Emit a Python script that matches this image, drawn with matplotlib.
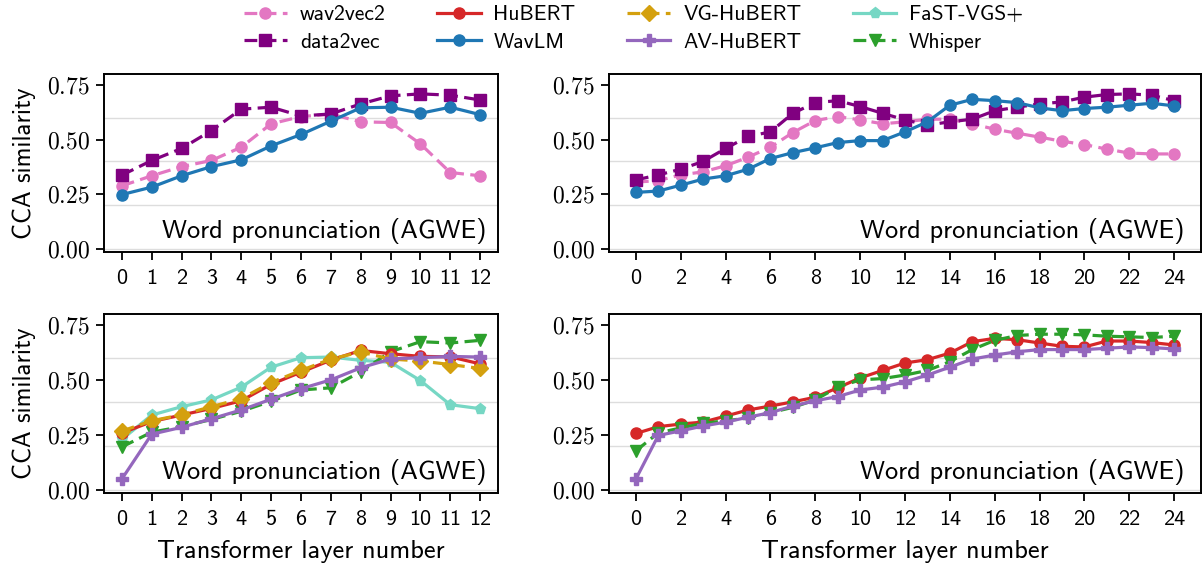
import matplotlib
matplotlib.use('Agg')
import matplotlib.pyplot as plt
from matplotlib.ticker import FormatStrFormatter

plt.rcParams['font.family'] = ['cmss10', 'DejaVu Sans']
plt.rcParams['mathtext.fontset'] = 'cm'
plt.rcParams['axes.unicode_minus'] = False

# base models (12 layers)
layers_base = list(range(13))
wav2vec2_base = [0.288, 0.334, 0.376, 0.404, 0.465, 0.572, 0.605, 0.616, 0.581, 0.578, 0.480, 0.349, 0.334]
data2vec_base = [0.337, 0.404, 0.459, 0.541, 0.639, 0.648, 0.608, 0.617, 0.663, 0.700, 0.709, 0.703, 0.681]
wavlm_base = [0.248, 0.282, 0.334, 0.376, 0.407, 0.471, 0.523, 0.584, 0.645, 0.648, 0.620, 0.648, 0.614]
hubert_base = [0.258, 0.310, 0.340, 0.370, 0.405, 0.480, 0.535, 0.590, 0.634, 0.619, 0.607, 0.605, 0.573]
vghubert_base = [0.267, 0.314, 0.341, 0.378, 0.415, 0.488, 0.543, 0.595, 0.627, 0.595, 0.586, 0.570, 0.552]
avhubert_base = [0.049, 0.253, 0.284, 0.323, 0.363, 0.412, 0.460, 0.500, 0.555, 0.595, 0.601, 0.607, 0.604]
fastvgs_base = [0.229, 0.340, 0.378, 0.409, 0.467, 0.558, 0.601, 0.604, 0.589, 0.580, 0.497, 0.387, 0.369]
whisper_base = [0.195, 0.262, 0.287, 0.320, 0.357, 0.403, 0.454, 0.464, 0.537, 0.628, 0.674, 0.668, 0.680]

# large models (24 layers)
layers_large = list(range(25))
wav2vec2_large = [0.305, 0.312, 0.338, 0.352, 0.380, 0.419, 0.465, 0.532, 0.587, 0.605, 0.590, 0.572, 0.581,
                  0.593, 0.593, 0.572, 0.547, 0.529, 0.511, 0.492, 0.477, 0.456, 0.438, 0.434, 0.434]
data2vec_large = [0.315, 0.338, 0.364, 0.400, 0.459, 0.514, 0.535, 0.620, 0.669, 0.678, 0.651, 0.620, 0.590,
                  0.566, 0.581, 0.593, 0.632, 0.648, 0.663, 0.672, 0.694, 0.706, 0.709, 0.703, 0.678]
wavlm_large = [0.258, 0.264, 0.291, 0.319, 0.334, 0.364, 0.413, 0.440, 0.462, 0.486, 0.495, 0.495, 0.535,
               0.581, 0.657, 0.684, 0.678, 0.669, 0.645, 0.632, 0.642, 0.648, 0.657, 0.666, 0.654]
hubert_large = [0.256, 0.287, 0.299, 0.308, 0.335, 0.363, 0.381, 0.400, 0.421, 0.464, 0.509, 0.543, 0.577,
                0.592, 0.622, 0.674, 0.689, 0.683, 0.668, 0.653, 0.650, 0.677, 0.677, 0.670, 0.659]
whisper_large = [0.177, 0.259, 0.281, 0.302, 0.314, 0.326, 0.351, 0.375, 0.409, 0.467, 0.500, 0.506, 0.522,
                 0.543, 0.583, 0.638, 0.680, 0.702, 0.708, 0.708, 0.705, 0.699, 0.696, 0.693, 0.699]
avhubert_large = [0.049, 0.247, 0.268, 0.290, 0.308, 0.330, 0.351, 0.381, 0.405, 0.424, 0.454, 0.467, 0.491,
                  0.522, 0.558, 0.595, 0.613, 0.628, 0.638, 0.638, 0.638, 0.644, 0.650, 0.647, 0.641]

styles = {
    'wav2vec2': dict(color='#e377c2', ls='--', marker='o'),
    'data2vec': dict(color='#800080', ls='--', marker='s'),
    'HuBERT': dict(color='#d62728', ls='-', marker='o'),
    'WavLM': dict(color='#1f77b4', ls='-', marker='o'),
    'VG-HuBERT': dict(color='#d4a00e', ls='--', marker='D'),
    'AV-HuBERT': dict(color='#9467bd', ls='-', marker='P'),
    'FaST-VGS+': dict(color='#76d7c4', ls='-', marker='p'),
    'Whisper': dict(color='#2ca02c', ls='--', marker='v'),
}

W, H = 1202, 575
fig = plt.figure(figsize=(W / 100, H / 100), dpi=100)
ax_tl = fig.add_axes([104 / W, 1 - 252 / H, 394 / W, 178 / H])
ax_tr = fig.add_axes([609 / W, 1 - 252 / H, 592 / W, 178 / H])
ax_bl = fig.add_axes([104 / W, 1 - 493 / H, 394 / W, 179 / H])
ax_br = fig.add_axes([609 / W, 1 - 493 / H, 592 / W, 179 / H])

panels = [
    (ax_tl, layers_base, [('wav2vec2', wav2vec2_base), ('data2vec', data2vec_base), ('WavLM', wavlm_base)]),
    (ax_tr, layers_large, [('wav2vec2', wav2vec2_large), ('data2vec', data2vec_large), ('WavLM', wavlm_large)]),
    (ax_bl, layers_base, [('FaST-VGS+', fastvgs_base), ('Whisper', whisper_base), ('HuBERT', hubert_base),
                          ('VG-HuBERT', vghubert_base), ('AV-HuBERT', avhubert_base)]),
    (ax_br, layers_large, [('HuBERT', hubert_large), ('Whisper', whisper_large), ('AV-HuBERT', avhubert_large)]),
]

handles = {}
for ax, xs, series in panels:
    for name, ys in series:
        st = styles[name]
        ln, = ax.plot(xs, ys, color=st['color'], ls=st['ls'], marker=st['marker'],
                      lw=2.3, ms=8, dashes=(4, 2) if st['ls'] == '--' else (None, None), label=name)
        handles[name] = ln
    ax.set_ylim(-0.015, 0.80)
    ax.set_yticks([0.0, 0.25, 0.5, 0.75])
    ax.yaxis.set_major_formatter(FormatStrFormatter(r'$%.2f$'))
    for g in [0.0, 0.2, 0.4, 0.6]:
        ax.axhline(g, color='#dddddd', lw=1, zorder=0)
    ax.text(0.972, 0.045, 'Word pronunciation (AGWE)', transform=ax.transAxes,
            ha='right', va='bottom', fontsize=19)
    for sp in ax.spines.values():
        sp.set_linewidth(1.4)
    ax.tick_params(axis='both', width=1.3, length=6, pad=6)
    ax.tick_params(axis='x', labelsize=16)
    ax.tick_params(axis='y', labelsize=17, pad=4)

ax_tl.set_xticks(layers_base)
ax_bl.set_xticks(layers_base)
ax_tr.set_xticks(layers_large[::2])
ax_br.set_xticks(layers_large[::2])
for ax in [ax_tl, ax_bl]:
    ax.set_ylabel('CCA similarity', fontsize=18, labelpad=8)
for ax in [ax_bl, ax_br]:
    ax.set_xlabel('Transformer layer number', fontsize=19, labelpad=8)

order = ['wav2vec2', 'data2vec', 'HuBERT', 'WavLM', 'VG-HuBERT', 'AV-HuBERT', 'FaST-VGS+', 'Whisper']
fig.legend([handles[n] for n in order], order, loc='upper center', bbox_to_anchor=(0.527, 1.025),
           ncol=4, frameon=False, fontsize=15.5, handlelength=2.0, handletextpad=0.6,
           columnspacing=2.4, labelspacing=0.4)

fig.savefig('out.png', dpi=100)
